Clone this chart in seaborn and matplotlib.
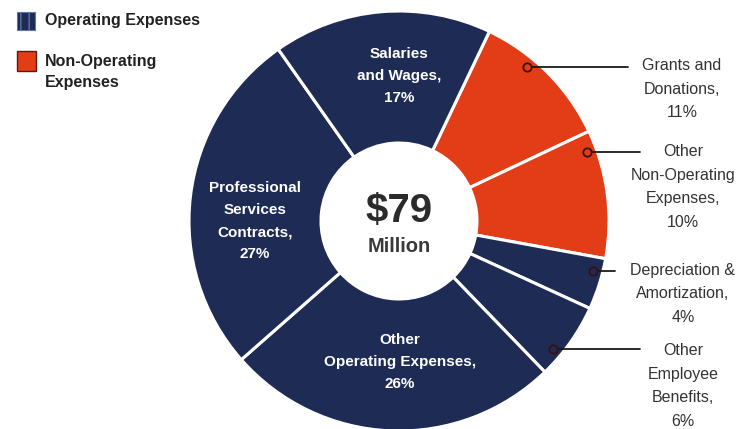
import matplotlib
matplotlib.use("Agg")
import matplotlib.pyplot as plt
import numpy as np
import seaborn as sns
from matplotlib.patches import Rectangle

sns.set_theme(style="white")
plt.rcParams["font.family"] = ["Liberation Sans", "DejaVu Sans"]

# Expense breakdown (percent of $79 million), clockwise from the Grants wedge
categories = [
    "Grants and\nDonations,\n11%",
    "Other\nNon-Operating\nExpenses,\n10%",
    "Depreciation &\nAmortization,\n4%",
    "Other\nEmployee\nBenefits,\n6%",
    "Other\nOperating Expenses,\n26%",
    "Professional\nServices\nContracts,\n27%",
    "Salaries\nand Wages,\n17%",
]
shares = [11, 10, 4, 6, 26, 27, 17]
groups = ["Non-Operating", "Non-Operating", "Operating", "Operating",
          "Operating", "Operating", "Operating"]
legend_labels = ["Operating Expenses", "Non-Operating\nExpenses"]
total_text = "$79"
total_unit = "Million"

NAVY = "#1d2b55"
RED = "#e33d18"
palette = {"Operating": NAVY, "Non-Operating": RED}

W, H = 752, 429
fig = plt.figure(figsize=(W / 100, H / 100), dpi=100)
ax = fig.add_axes([0, 0, 1, 1])

def py(y):
    # pixel row (top-down) to data y (bottom-up)
    return H - y

cx, cy = 399, py(221)
r_out, r_in = 210, 78
start_cw = 25.5  # degrees clockwise from 12 o'clock where the first wedge begins

wedges, _ = ax.pie(
    shares,
    colors=[palette[g] for g in groups],
    startangle=90 - start_cw,
    counterclock=False,
    radius=r_out,
    center=(cx, cy),
    wedgeprops=dict(width=r_out - r_in, edgecolor="white", linewidth=2.2),
)
ax.set_xlim(0, W)
ax.set_ylim(0, H)
ax.set_aspect("equal")
ax.axis("off")

# Labels drawn inside the wedges
inside = {
    6: (399, 76),
    5: (255, 221),
    4: (400, 362),
}
for i, (x, y) in inside.items():
    ax.text(x, py(y), categories[i], ha="center", va="center", color="white",
            fontsize=11, fontweight="bold", linespacing=1.75)

# Callout labels on the right side, anchored by small rings inside the wedges
anchor_frac = {0: 0.36, 1: 0.14, 2: 0.29, 3: 0.71}
anchor_r = 200
text_pos = {0: (682, 89), 1: (683, 187), 2: (683, 294), 3: (683, 386)}
line_end = {0: 628, 1: 640, 2: 615, 3: 640}
for i, frac in anchor_frac.items():
    wdg = wedges[i]
    t1, t2 = wdg.theta1, wdg.theta2
    ang = np.deg2rad(t2 - (t2 - t1) * frac)
    ax_ = cx + anchor_r * np.cos(ang)
    ay_ = cy + anchor_r * np.sin(ang)
    ax.plot([ax_, line_end[i]], [ay_, ay_], color="#1a1a1a", lw=1.3, zorder=4)
    ax.plot(ax_, ay_, marker="o", ms=6, mfc=wdg.get_facecolor(),
            mec="#3a1010", mew=1.3, zorder=5)
    tx, ty = text_pos[i]
    ax.text(tx, py(ty), categories[i], ha="center", va="center",
            color="#333333", fontsize=11.5, linespacing=1.7)

# Center total
ax.text(cx, py(211), total_text, ha="center", va="center", color="#2b2b2b",
        fontsize=29, fontweight="bold")
ax.text(cx, py(247), total_unit, ha="center", va="center", color="#3a3a3a",
        fontsize=14.5, fontweight="bold")

# Legend swatches and labels
ax.add_patch(Rectangle((17, py(30)), 18, 18, facecolor=NAVY,
                       edgecolor="#5f74a8", hatch="||", lw=0.8))
ax.add_patch(Rectangle((16.5, py(71)), 19, 20, facecolor=RED,
                       edgecolor="#5a1a10", lw=1.0))
ax.text(45, py(20), legend_labels[0], ha="left", va="center",
        color="#222222", fontsize=11.5, fontweight="semibold")
ax.text(45, py(72), legend_labels[1], ha="left", va="center",
        color="#222222", fontsize=11.5, fontweight="semibold", linespacing=1.5)

fig.savefig("out.png", dpi=100)
